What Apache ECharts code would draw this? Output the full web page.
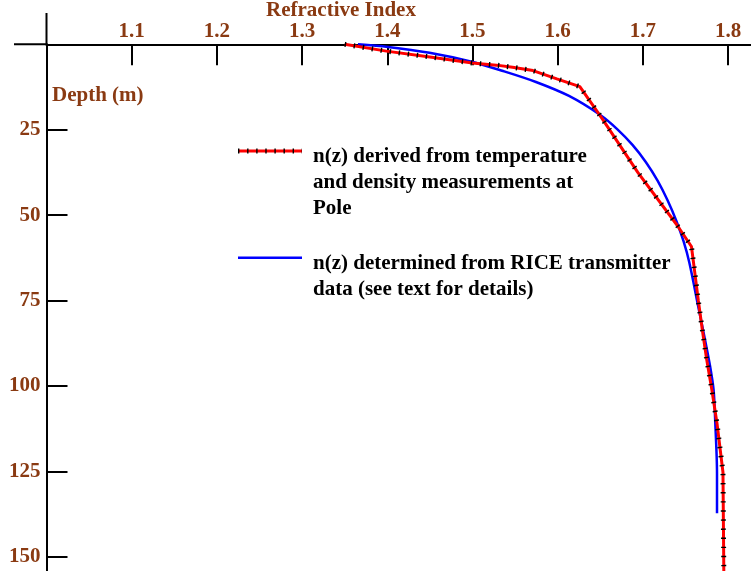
<!DOCTYPE html>
<html>
<head>
<meta charset="utf-8">
<script src="https://cdn.jsdelivr.net/npm/echarts@6/dist/echarts.min.js"></script>
<style>
html,body{margin:0;padding:0;background:#fff;}
#c{width:751px;height:571px;}
</style>
</head>
<body>
<div id="c"></div>
<script>
// ---- data ----
const indexTicks = [1.1, 1.2, 1.3, 1.4, 1.5, 1.6, 1.7, 1.8];
const depthTicks = [25, 50, 75, 100, 125, 150];

// n(z) derived from temperature and density measurements at Pole (red)
const redIndex = [1.350, 1.399, 1.450, 1.500, 1.528, 1.547, 1.571, 1.599, 1.626, 1.652, 1.694, 1.740, 1.757, 1.761, 1.765, 1.770, 1.775, 1.781, 1.787, 1.794, 1.795];
const redDepth = [0, 2.0, 3.7, 5.5, 6.1, 6.7, 7.7, 10.1, 12.4, 21.7, 37.5, 52.9, 59.2, 67.0, 74.9, 84.0, 92.4, 101.2, 111.0, 125.3, 154.2];

// n(z) determined from RICE transmitter data (blue)
const blueIndex = [1.3656, 1.4007, 1.4495, 1.4978, 1.5349, 1.5745, 1.6133, 1.6500, 1.6698, 1.6878, 1.7036, 1.7174, 1.7291, 1.7392, 1.7478, 1.7545, 1.765, 1.773, 1.779, 1.783, 1.785, 1.787, 1.787];
const blueDepth = [0, 0.76, 2.46, 5.01, 7.76, 11.04, 15.13, 20.70, 24.82, 29.45, 34.51, 39.99, 45.73, 51.67, 57.73, 63.91, 76.8, 86.6, 94.4, 101.2, 111.0, 125.6, 137.3];

const legendRed = ['n(z) derived from temperature', 'and density measurements at', 'Pole'];
const legendBlue = ['n(z) determined from RICE transmitter', 'data (see text for details)'];
const xTitle = 'Refractive Index';
const yTitle = 'Depth (m)';

// ---- chart ----
const brown = '#8a3a12';
const FONT = '"Liberation Serif", "Times New Roman", serif';
const FS = 21;
const redData = redIndex.map((v, i) => [v, redDepth[i]]);
const blueData = blueIndex.map((v, i) => [v, blueDepth[i]]);

const chart = echarts.init(document.getElementById('c'), null, {renderer: 'canvas'});

function txt(s, x, y, color, align) {
  return {
    type: 'text', silent: true, z: 100,
    style: {
      text: s, x: x, y: y, fill: color,
      font: 'bold ' + FS + 'px ' + FONT,
      align: align || 'left', verticalAlign: 'middle',
      textAlign: align || 'left', textVerticalAlign: 'middle'
    }
  };
}
function seg(x1, y1, x2, y2, stroke, w, dash) {
  const st = {stroke: stroke, lineWidth: w, lineCap: 'butt'};
  if (dash) st.lineDash = dash;
  return {type: 'line', silent: true, z: 100, shape: {x1, y1, x2, y2}, style: st};
}

const graphics = [
  // extensions of the axis lines beyond their crossing point
  seg(14, 44.3, 47, 44.3, '#000', 2),
  seg(46.5, 13, 46.5, 45, '#000', 2),
  txt(xTitle, 341, 11, brown, 'center'),
  txt(yTitle, 52, 96, brown, 'left'),
  // legend
  seg(238, 151, 302, 151, '#ff0000', 3),
  seg(238, 151, 302, 151, '#000', 5, [1.4, 7.7]),
  seg(238, 257.7, 302, 257.7, '#0000ff', 2.5)
];
legendRed.forEach((s, i) => graphics.push(txt(s, 313, 157 + i * 25.7, '#000')));
legendBlue.forEach((s, i) => graphics.push(txt(s, 313, 263.5 + i * 25.7, '#000')));

chart.setOption({
  animation: false,
  backgroundColor: '#fff',
  grid: {left: 46.5, top: 44.3, right: 0, bottom: 0, containLabel: false, outerBoundsMode: 'none'},
  xAxis: {
    type: 'value', position: 'top',
    min: 1.0, max: 1.8269,
    splitLine: {show: false},
    axisLine: {show: true, onZero: false, lineStyle: {color: '#000', width: 2}},
    axisTick: {show: true, inside: true, length: 21, customValues: indexTicks, lineStyle: {color: '#000', width: 2}},
    axisLabel: {
      show: true, customValues: indexTicks, margin: 2,
      formatter: v => Number(v).toFixed(1),
      color: brown, fontFamily: FONT, fontWeight: 'bold', fontSize: FS
    }
  },
  yAxis: {
    type: 'value', inverse: true,
    min: 0, max: 154.2,
    splitLine: {show: false},
    axisLine: {show: true, onZero: false, lineStyle: {color: '#000', width: 2}},
    axisTick: {show: true, inside: true, length: 21, customValues: depthTicks, lineStyle: {color: '#000', width: 2}},
    axisLabel: {
      show: true, customValues: depthTicks, margin: 6,
      color: brown, fontFamily: FONT, fontWeight: 'bold', fontSize: FS
    }
  },
  series: [
    {
      name: 'RICE', type: 'line', data: blueData, smooth: 0.3,
      symbol: 'none', silent: true, z: 2,
      lineStyle: {color: '#0000ff', width: 2.5}
    },
    {
      name: 'Pole', type: 'line', data: redData,
      symbol: 'none', silent: true, z: 3,
      lineStyle: {color: '#ff0000', width: 3}
    },
    {
      name: 'PoleTicks', type: 'line', data: redData,
      symbol: 'none', silent: true, z: 4,
      lineStyle: {color: '#000', width: 5, type: [1.4, 7.7], cap: 'butt'}
    }
  ],
  graphic: graphics
});
</script>
</body>
</html>
